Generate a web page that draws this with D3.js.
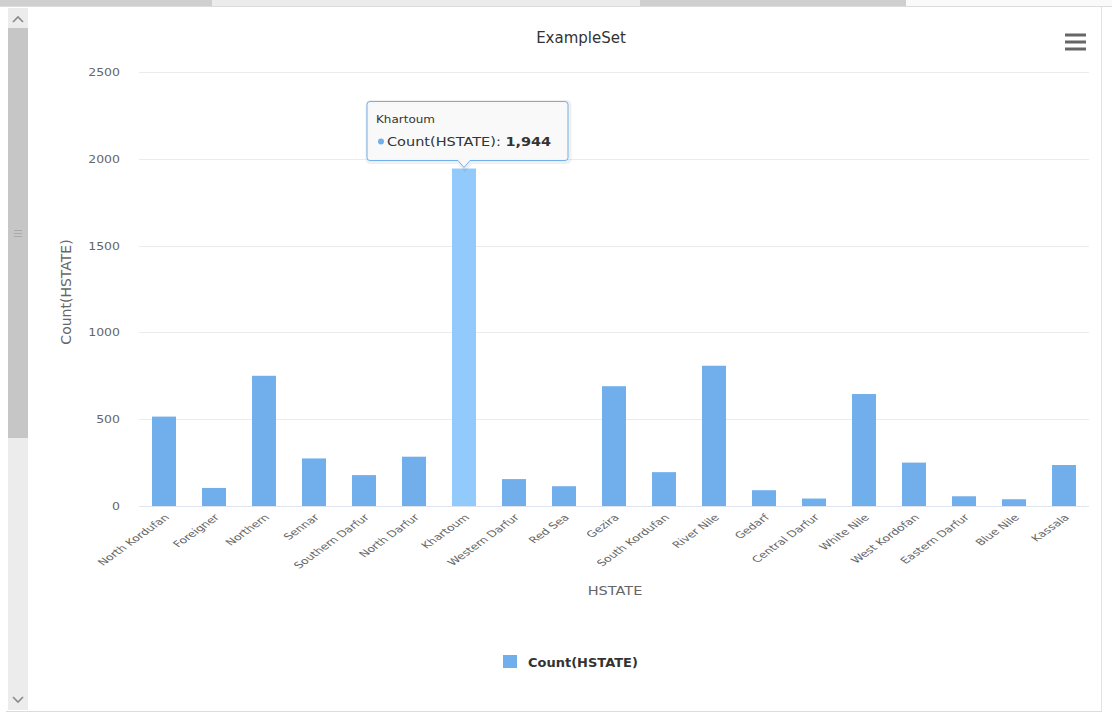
<!DOCTYPE html>
<html>
<head>
<meta charset="utf-8">
<script src="https://cdn.jsdelivr.net/npm/d3@7"></script>
<style>
body{margin:0;background:#fff;overflow:hidden;}
svg{display:block;font-family:"DejaVu Sans",Verdana,sans-serif;}
</style>
</head>
<body>
<svg id="chart" width="1112" height="713"></svg>
<script>
//bar chart of HSTATE counts

var states = ["North Kordufan","Foreigner","Northern","Sennar","Southern Darfur","North Darfur","Khartoum","Western Darfur","Red Sea","Gezira","South Kordufan","River Nile","Gedarf","Central Darfur","White Nile","West Kordofan","Eastern Darfur","Blue Nile","Kassala"];
var counts = [515,104,750,274,178,284,1944,155,114,690,195,808,91,43,645,250,56,39,236];
var yTicks = [0,500,1000,1500,2000,2500];
var seriesName = "Count(HSTATE)";
var chartTitle = "ExampleSet";
var xTitle = "HSTATE";
var hoverState = "Khartoum";

var svg = d3.select("#chart");
var barColor = "#70afeb", hoverColor = "#92cbfb";

var x = d3.scaleBand().domain(states).range([139,1089]).paddingInner(0.52).paddingOuter(0.26);
var y = d3.scaleLinear().domain([0,2500]).range([506,72]);

function drawFrame(){
	// tab strip on top
	var tabs = [[0,212,"#cfcfcf"],[212,640,"#ececec"],[640,906,"#cfcfcf"],[906,1112,"#fafafa"]];
	svg.selectAll(".tab").data(tabs).enter().append("rect")
	.attr("x",function(d){return d[0];}).attr("y",0)
	.attr("width",function(d){return d[1]-d[0];}).attr("height",6)
	.attr("fill",function(d){return d[2];});
	svg.append("line").attr("x1",0).attr("x2",1112).attr("y1",6.5).attr("y2",6.5).attr("stroke","#dcdcdc");
	svg.append("line").attr("x1",1101.5).attr("x2",1101.5).attr("y1",7).attr("y2",711).attr("stroke","#e2e2e2");
	svg.append("line").attr("x1",6).attr("x2",1102).attr("y1",711.5).attr("y2",711.5).attr("stroke","#dcdcdc");
	// scrollbar
	svg.append("rect").attr("x",8).attr("y",8).attr("width",20).attr("height",702).attr("fill","#ececec");
	svg.append("rect").attr("x",8).attr("y",28).attr("width",20).attr("height",410).attr("fill","#c6c6c6");
	svg.selectAll(".grip").data([230,233,236]).enter().append("line")
	.attr("x1",14).attr("x2",22).attr("y1",function(d){return d+0.5;}).attr("y2",function(d){return d+0.5;})
	.attr("stroke","#aaa");
	svg.append("path").attr("d","M13,22 L18,17 L23,22").attr("fill","none").attr("stroke","#8a8a8a").attr("stroke-width",1.6);
	svg.append("path").attr("d","M13,697 L18,702 L23,697").attr("fill","none").attr("stroke","#8a8a8a").attr("stroke-width",1.6);
	// menu icon
	svg.selectAll(".menu").data([35,42,49]).enter().append("rect")
	.attr("x",1065).attr("y",function(d){return d-1.5;}).attr("width",21).attr("height",3)
	.attr("fill","#666");
}

function drawAxes(){
	var grid = svg.append("g");
	grid.selectAll("line").data(yTicks).enter().append("line")
	.attr("x1",139).attr("x2",1089)
	.attr("y1",function(d){return Math.round(y(d))+0.5;})
	.attr("y2",function(d){return Math.round(y(d))+0.5;})
	.attr("stroke",function(d){return d===0?"#dfe5f0":"#ebebeb";});

	var yAxis = d3.axisLeft(y).tickValues(yTicks).tickFormat(d3.format("d")).tickSize(0).tickPadding(0);
	var ya = svg.append("g").attr("transform","translate(120,0)").call(yAxis);
	ya.select(".domain").remove();
	ya.selectAll("text").attr("fill","#666").style("font-size","12.5px").style("font-family","DejaVu Sans")
	.attr("transform","scale(1,0.85)");

	var xAxis = d3.axisBottom(x).tickSize(0).tickPadding(0);
	var xa = svg.append("g").attr("transform","translate(0,506)").call(xAxis);
	xa.select(".domain").remove();
	// labels look flattened in the original, so squash them a bit before rotating
	xa.selectAll("text")
	.attr("fill","#666").style("font-size","12.5px").style("font-family","DejaVu Sans")
	.attr("text-anchor","end").attr("dy",null).attr("y",null)
	.attr("transform","translate(6,12) scale(1,0.72) rotate(-45)");

	svg.append("text").attr("transform","translate(66,292) rotate(-90)")
	.attr("text-anchor","middle").attr("dy","0.35em")
	.attr("fill","#666").style("font-size","14px").text(seriesName);
	svg.append("text").attr("transform","translate(615,595) scale(1,0.9)")
	.attr("text-anchor","middle").attr("fill","#666").style("font-size","14.5px").text(xTitle);
	svg.append("text").attr("x",581).attr("y",43)
	.attr("text-anchor","middle").attr("fill","#333").style("font-size","15px").text(chartTitle);
}

function drawBars(){
	svg.append("g").selectAll("rect").data(states).enter().append("rect")
	.attr("x",function(d){return x(d);})
	.attr("width",x.bandwidth())
	.attr("y",function(d,i){return y(counts[i]);})
	.attr("height",function(d,i){return y(0)-y(counts[i]);})
	.attr("fill",function(d){return d===hoverState?hoverColor:barColor;});
}

function drawLegend(){
	var lg = svg.append("g").attr("transform","translate(503,655)");
	lg.append("rect").attr("width",14).attr("height",13).attr("fill",barColor);
	lg.append("text").attr("transform","translate(25,11.5) scale(1,0.9)").attr("fill","#333")
	.style("font-size","13px").style("font-weight","bold").text(seriesName);
}

function drawTooltip(){
	var i = states.indexOf(hoverState);
	var ax = x(hoverState)+x.bandwidth()/2, ay = y(counts[i]);
	var left = ax-97, top = ay-67, w = 201, h = 59, r = 3;
	var d = "M"+(left+r)+","+top+" H"+(left+w-r)+" Q"+(left+w)+","+top+" "+(left+w)+","+(top+r)
		+" V"+(top+h-r)+" Q"+(left+w)+","+(top+h)+" "+(left+w-r)+","+(top+h)
		+" H"+(ax+6)+" L"+ax+","+(ay-1)+" L"+(ax-6)+","+(top+h)
		+" H"+(left+r)+" Q"+left+","+(top+h)+" "+left+","+(top+h-r)
		+" V"+(top+r)+" Q"+left+","+top+" "+(left+r)+","+top+" Z";
	var tip = svg.append("g");
	tip.append("path").attr("d",d).attr("fill","none").attr("stroke","#000").attr("stroke-opacity",0.06)
	.attr("stroke-width",5).attr("transform","translate(1,1)");
	tip.append("path").attr("d",d).attr("fill","rgba(249,249,249,0.92)").attr("stroke",barColor).attr("stroke-width",1);
	tip.append("text").attr("transform","translate("+(left+9)+","+(top+21)+") scale(1,0.9)").attr("fill","#333")
	.style("font-size","12px").text(hoverState);
	tip.append("circle").attr("cx",left+14).attr("cy",top+40).attr("r",3).attr("fill",barColor);
	var t = tip.append("text").attr("transform","translate("+(left+20)+","+(top+44.5)+") scale(1,0.88)")
	.attr("fill","#333").style("font-size","14.5px");
	t.append("tspan").text(seriesName+": ");
	t.append("tspan").style("font-weight","bold").text(d3.format(",")(counts[i]));
}

drawFrame();
drawAxes();
drawBars();
drawLegend();
drawTooltip();
</script>
</body>
</html>
